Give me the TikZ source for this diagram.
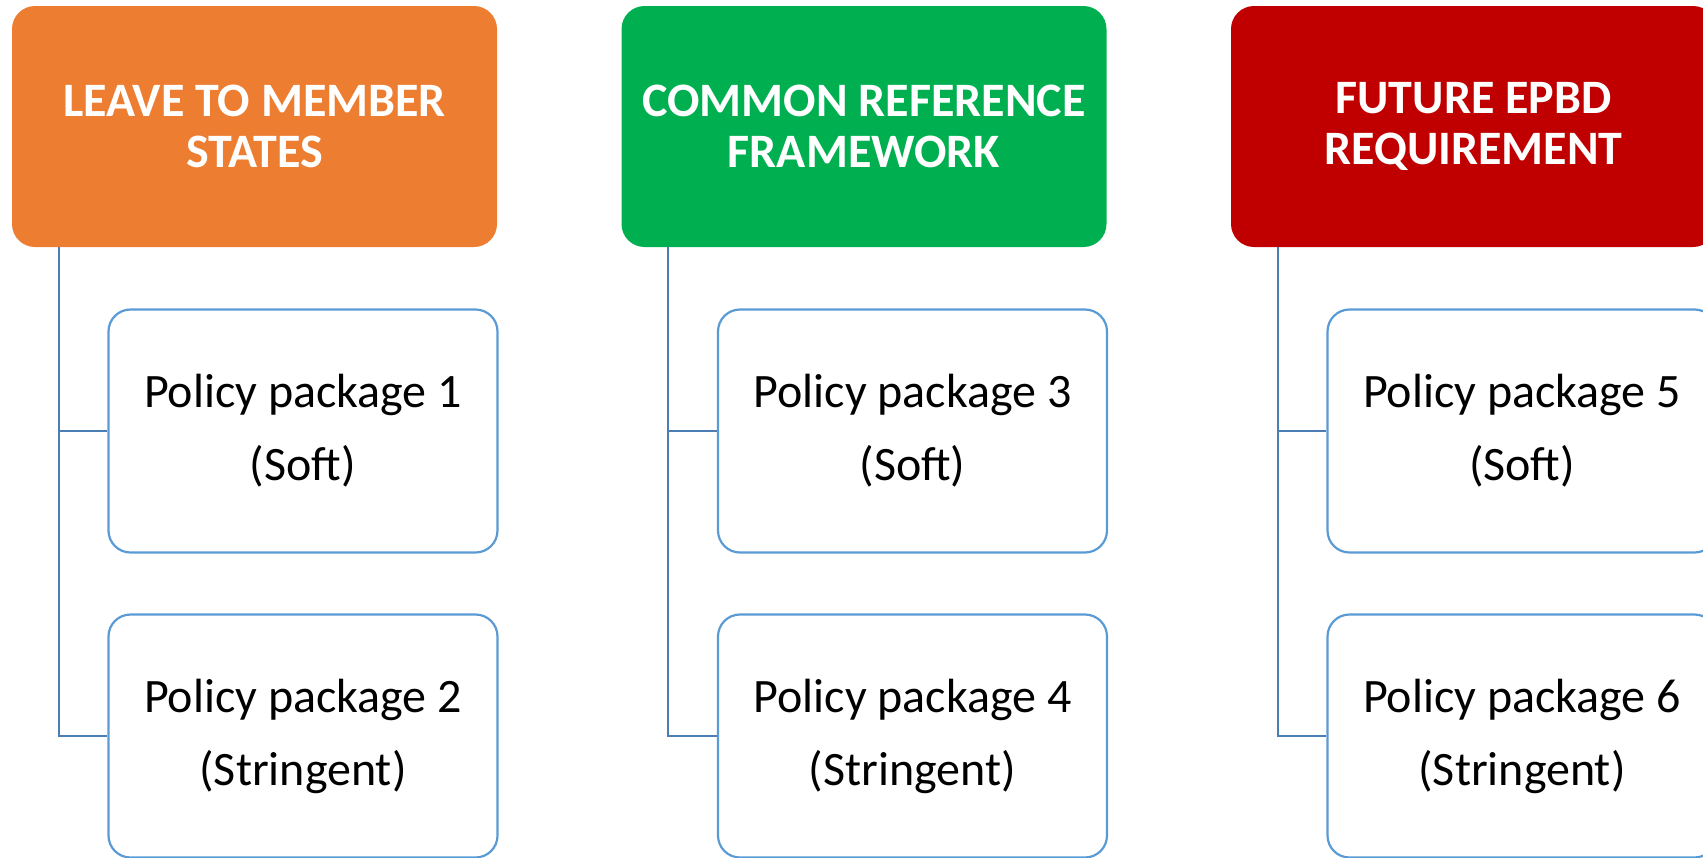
\documentclass[tikz,border=0pt]{standalone}
\usepackage{fontspec}
\setmainfont{Carlito}
\definecolor{headorange}{HTML}{ED7D31}
\definecolor{headgreen}{HTML}{00B050}
\definecolor{headred}{HTML}{C00000}
\definecolor{childblue}{HTML}{5B9BD5}
\definecolor{linkblue}{HTML}{4A7EB5}
\begin{document}
\begin{tikzpicture}[x=1pt,y=-1pt,
  head/.style={rounded corners=23pt, minimum width=485pt, minimum height=241pt,
    text=white, font=\fontsize{48}{51}\selectfont\bfseries, align=center, inner sep=0pt},
  child/.style={draw=childblue, line width=2.2pt, rounded corners=22pt, fill=white,
    minimum width=389pt, minimum height=243pt, font=\fontsize{48}{73}\selectfont,
    align=center, inner sep=0pt},
  link/.style={draw=linkblue, line width=2.2pt}]
\useasboundingbox (0,0) rectangle (1703,857);
% headers
\node[head, fill=headorange] (h1) at (254.5,126.5) {LEAVE TO MEMBER\\STATES};
\node[head, fill=headgreen] (h2) at (864,126.5) {COMMON REFERENCE\\FRAMEWORK};
\node[head, fill=headred] (h3) at (1473.5,126.5) {FUTURE EPBD\\REQUIREMENT};
% children
\node[child] (c1) at (303,431) {Policy package 1\\(Soft)};
\node[child] (c2) at (303,736) {Policy package 2\\(Stringent)};
\node[child] (c3) at (912.5,431) {Policy package 3\\(Soft)};
\node[child] (c4) at (912.5,736) {Policy package 4\\(Stringent)};
\node[child] (c5) at (1522,431) {Policy package 5\\(Soft)};
\node[child] (c6) at (1522,736) {Policy package 6\\(Stringent)};
% connectors
\foreach \h/\a/\b in {h1/c1/c2, h2/c3/c4, h3/c5/c6}{
  \draw[link] ([xshift=47pt]\h.south west) |- (\a.west);
  \draw[link] ([xshift=47pt]\h.south west) |- (\b.west);
}
\end{tikzpicture}
\end{document}
